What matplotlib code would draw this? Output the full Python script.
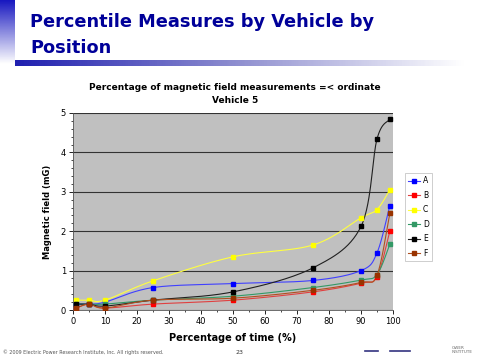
import numpy as np
import matplotlib
matplotlib.use("Agg")
import matplotlib.pyplot as plt
from matplotlib.lines import Line2D

# ---- data ----
pct = [1, 5, 10, 25, 50, 75, 90, 95, 99]
series_names = ["A", "B", "C", "D", "E", "F"]
A = [0.15, 0.15, 0.20, 0.57, 0.67, 0.75, 1.00, 1.45, 2.65]
B = [0.05, 0.15, 0.05, 0.15, 0.25, 0.46, 0.68, 0.85, 2.00]
C = [0.25, 0.25, 0.25, 0.74, 1.35, 1.65, 2.34, 2.55, 3.05]
D = [0.15, 0.15, 0.15, 0.25, 0.35, 0.57, 0.76, 0.90, 1.67]
E = [0.15, 0.15, 0.10, 0.25, 0.46, 1.07, 2.12, 4.34, 4.84]
F = [0.05, 0.15, 0.05, 0.25, 0.30, 0.50, 0.70, 0.88, 2.45]
values = [A, B, C, D, E, F]
colors = ["#0000FF", "#FF0000", "#FFFF00", "#339966", "#000000", "#993300"]
line_colors = ["#4040FF", "#E04040", "#FFFF40", "#339966", "#202020", "#B05020"]
x_ticks = [0, 10, 20, 30, 40, 50, 60, 70, 80, 90, 100]
y_ticks = [0, 1, 2, 3, 4, 5]


def smooth(x, y, n=30):
    # Catmull-Rom style smoothing through the data points (like Excel smoothed lines)
    x = np.asarray(x, float); y = np.asarray(y, float)
    px = np.concatenate([[x[0]], x, [x[-1]]])
    py = np.concatenate([[y[0]], y, [y[-1]]])
    xs, ys = [], []
    for i in range(1, len(px) - 2):
        p0 = np.array([px[i - 1], py[i - 1]]); p1 = np.array([px[i], py[i]])
        p2 = np.array([px[i + 1], py[i + 1]]); p3 = np.array([px[i + 2], py[i + 2]])
        c1 = p1 + (p2 - p0) / 6.0
        c2 = p2 - (p3 - p1) / 6.0
        t = np.linspace(0, 1, n)[:, None]
        pts = (1 - t) ** 3 * p1 + 3 * (1 - t) ** 2 * t * c1 + 3 * (1 - t) * t ** 2 * c2 + t ** 3 * p2
        xs.extend(pts[:, 0]); ys.extend(pts[:, 1])
    return np.array(xs), np.array(ys)


fig = plt.figure(figsize=(4.8, 3.6), dpi=100)
fig.patch.set_facecolor("white")

# slide decorations
deco = fig.add_axes([0, 0, 1, 1], zorder=-5)
deco.set_xlim(0, 480); deco.set_ylim(360, 0); deco.axis("off")
grad_v = np.linspace(0, 1, 100)[:, None]
deco.imshow(grad_v, extent=[0, 15, 64, 0],
            cmap=matplotlib.colors.LinearSegmentedColormap.from_list("v", ["#1818C0", "#FFFFFF"]), aspect="auto")
grad_h = np.linspace(0, 1, 200)[None, :]
deco.imshow(grad_h, extent=[15, 465, 66, 60],
            cmap=matplotlib.colors.LinearSegmentedColormap.from_list("h", ["#2020B0", "#9090D0", "#FFFFFF"]), aspect="auto")
deco.set_xlim(0, 480); deco.set_ylim(360, 0)

fig.text(30 / 480, 1 - 27 / 360, "Percentile Measures by Vehicle by", fontsize=12.8, fontweight="bold", color="#000099", va="baseline")
fig.text(30 / 480, 1 - 53 / 360, "Position", fontsize=12.8, fontweight="bold", color="#000099", va="baseline")
fig.text(235 / 480, 1 - 94 / 360, "Percentage of magnetic field measurements =< ordinate\nVehicle 5",
         ha="center", va="center", fontsize=6.5, fontweight="bold", linespacing=1.45)
fig.text(3 / 480, 1 - 352 / 360, "© 2009 Electric Power Research Institute, Inc. All rights reserved.",
         fontsize=3.5, color="#555555", va="center")
fig.text(239 / 480, 1 - 352 / 360, "23", fontsize=4.5, color="#333333", va="center", ha="center")
deco.plot([365, 378], [351, 351], color="#333380", lw=1.2)
deco.plot([390, 410], [351, 351], color="#333380", lw=1.2)
fig.text(452 / 480, 1 - 350 / 360, "OWER\nINSTITUTE", fontsize=3, color="#666666", va="center", ha="left", linespacing=1.2)

ax = fig.add_axes([73 / 480, 1 - 310 / 360, 320 / 480, 197 / 360])
ax.set_facecolor("#C0C0C0")
for v, c, lc in zip(values, colors, line_colors):
    xs, ys = smooth(pct, v)
    ax.plot(xs, ys, color=lc, lw=0.8, zorder=3)
    ax.plot(pct, v, ls="none", marker="s", ms=3.5, color=c, mec=c, zorder=4)

ax.set_xlim(0, 100)
ax.set_ylim(0, 5)
ax.set_xticks(x_ticks)
ax.set_yticks(y_ticks)
ax.set_xticks(np.arange(0, 101, 5), minor=True)
ax.set_yticks(np.arange(0, 5.01, 0.2), minor=True)
ax.tick_params(labelsize=6, length=3, width=0.6, pad=2, direction="out")
ax.tick_params(which="minor", length=1.5, width=0.5)
ax.grid(axis="y", which="major", color="#333333", lw=0.8)
ax.set_axisbelow(True)
for s in ["top", "right"]:
    ax.spines[s].set_visible(False)
for s in ["left", "bottom"]:
    ax.spines[s].set_color("#555555"); ax.spines[s].set_linewidth(0.6)
ax.set_xlabel("Percentage of time (%)", fontsize=7, fontweight="bold", labelpad=5)
ax.set_ylabel("Magnetic field (mG)", fontsize=6, fontweight="bold", labelpad=6)

handles = [Line2D([], [], color=lc, lw=0.8, marker="s", ms=3, mfc=c, mec=c) for c, lc in zip(colors, line_colors)]
leg = fig.legend(handles, series_names, loc="upper left", bbox_to_anchor=(405 / 480, 1 - 173 / 360),
                 fontsize=5.5, frameon=True, fancybox=False, edgecolor="#AAAAAA", handlelength=1.5,
                 labelspacing=0.72, borderpad=0.45, handletextpad=0.4, borderaxespad=0)
leg.get_frame().set_linewidth(0.5)

fig.savefig("out.png", dpi=100, facecolor="white")
